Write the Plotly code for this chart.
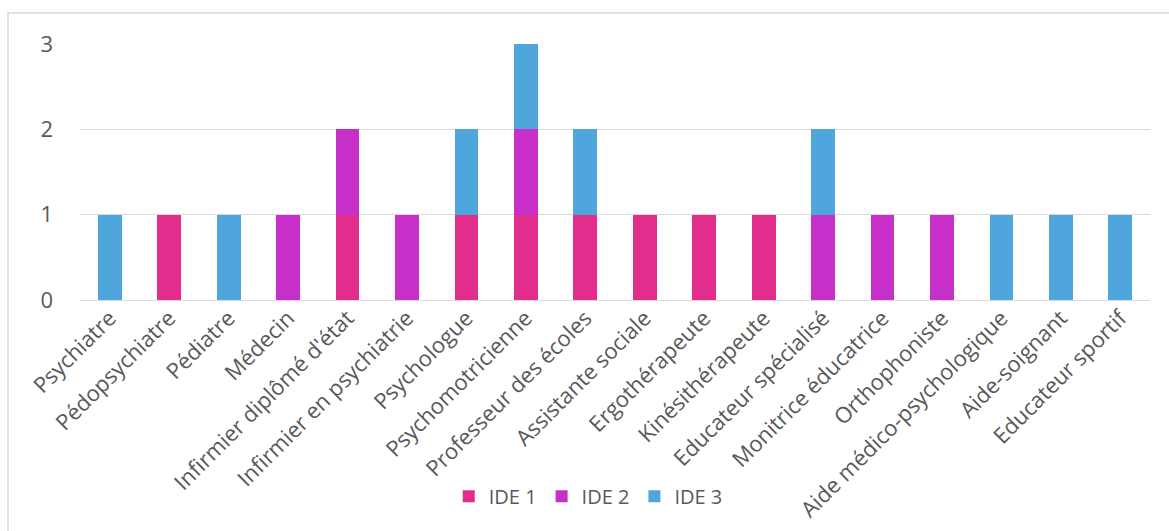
import plotly.graph_objects as go

categories = ["Psychiatre", "Pédopsychiatre", "Pédiatre", "Médecin", "Infirmier diplômé d'état",
              "Infirmier en psychiatrie", "Psychologue", "Psychomotricienne", "Professeur des écoles",
              "Assistante sociale", "Ergothérapeute", "Kinésithérapeute", "Educateur spécialisé",
              "Monitrice éducatrice", "Orthophoniste", "Aide médico-psychologique", "Aide-soignant",
              "Educateur sportif"]
ide1 = [0, 1, 0, 0, 1, 0, 1, 1, 1, 1, 1, 1, 0, 0, 0, 0, 0, 0]
ide2 = [0, 0, 0, 1, 1, 1, 0, 1, 0, 0, 0, 0, 1, 1, 1, 0, 0, 0]
ide3 = [1, 0, 1, 0, 0, 0, 1, 1, 1, 0, 0, 0, 1, 0, 0, 1, 1, 1]
y_ticks = [0, 1, 2, 3]

colors = {"IDE 1": "#E32D8C", "IDE 2": "#C62FC8", "IDE 3": "#4FA6DC"}

fig = go.Figure()
for name, vals in [("IDE 1", ide1), ("IDE 2", ide2), ("IDE 3", ide3)]:
    fig.add_trace(go.Bar(name=name, x=categories, y=vals, marker_color=colors[name],
                         marker_line_width=0, width=0.4))

fig.update_layout(
    barmode="stack",
    width=1169, height=531,
    margin=dict(l=80, r=19, t=44, b=231),
    paper_bgcolor="white", plot_bgcolor="white",
    font=dict(family="Open Sans", size=20, color="#595959"),
    bargap=0.6,
    legend=dict(orientation="h", x=0.475, xanchor="center", y=-0.69, yanchor="top",
                font=dict(size=20, color="#595959"), itemwidth=30, traceorder="normal"),
    showlegend=True,
)
fig.update_xaxes(tickangle=-45, showgrid=False, showline=False, ticks="",
                 tickfont=dict(size=22, color="#595959"), automargin=False)
fig.update_yaxes(range=[0, 3], tickvals=y_ticks, showgrid=True, gridcolor="#D9D9D9",
                 gridwidth=1, zeroline=True, zerolinecolor="#D9D9D9", zerolinewidth=1,
                 showline=False, ticks="", ticklabelstandoff=26, automargin=False,
                 tickfont=dict(size=22, color="#595959"))

fig.add_shape(type="rect", xref="paper", yref="paper",
              x0=(8 - 80) / 1070, x1=1.2, y0=-1.5, y1=(300 - 13) / 256,
              line=dict(color="#D9D9D9", width=1.5), fillcolor="rgba(0,0,0,0)", layer="below")

fig.write_html("out.html")
